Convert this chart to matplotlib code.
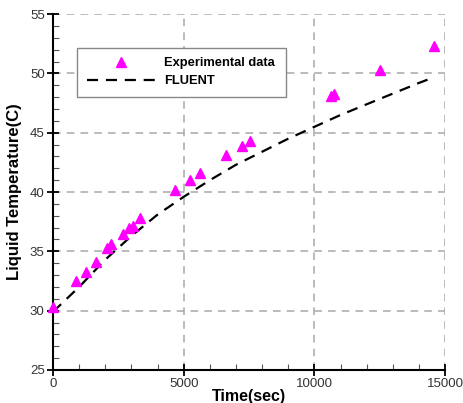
import numpy as np
import matplotlib.pyplot as plt
from matplotlib.ticker import MultipleLocator

plt.rcParams['font.family'] = ['Liberation Sans', 'DejaVu Sans']

# experimental points
t_exp = [0, 880, 1260, 1650, 2070, 2220, 2680, 2910, 3060, 3330,
         4670, 5240, 5630, 6620, 7230, 7540, 10640, 10750, 12510, 14580]
T_exp = [30.3, 32.5, 33.3, 34.1, 35.3, 35.6, 36.5, 37.0, 37.1, 37.8,
         40.2, 41.0, 41.6, 43.1, 43.9, 44.3, 48.1, 48.3, 50.3, 52.3]

# FLUENT curve
t_cfd = [0, 1000, 2000, 3000, 4000, 5000, 6000, 7000, 8000, 9000,
         10000, 11000, 12000, 13000, 14000, 14600]
T_cfd = [29.9, 32.0, 34.3, 36.3, 38.1, 39.6, 41.0, 42.3, 43.4, 44.5,
         45.5, 46.5, 47.4, 48.3, 49.2, 49.7]

fig = plt.figure(figsize=(4.63, 4.03), dpi=100)
ax = fig.add_axes([0.1145, 0.082, 0.847, 0.883])

ax.plot(t_exp, T_exp, '^', color='#ff00ff', markersize=7, label='Experimental data',
        clip_on=False, zorder=4)
ax.plot(t_cfd, T_cfd, '--', color='black', lw=1.6, dashes=(5, 3.5), label='FLUENT', zorder=3)

ax.set_xlim(0, 15000)
ax.set_ylim(25, 55)
ax.xaxis.set_major_locator(MultipleLocator(5000))
ax.xaxis.set_minor_locator(MultipleLocator(1000))
ax.yaxis.set_major_locator(MultipleLocator(5))
ax.yaxis.set_minor_locator(MultipleLocator(1))
ax.grid(True, which='major', color='#a8a8a8', ls=(0, (5, 4)), lw=1.1)
ax.set_axisbelow(True)

for s in ['top', 'right']:
    ax.spines[s].set_visible(False)
for s in ['left', 'bottom']:
    ax.spines[s].set_linewidth(1.5)

ax.tick_params(which='major', direction='inout', length=8, width=1.3, labelsize=9.5,
               labelcolor='#333333', pad=2)
ax.tick_params(which='minor', direction='in', length=4, width=0.8, color='#555555')

ax.set_xlabel('Time(sec)', fontsize=11.5, fontweight='bold', labelpad=-1)
ax.set_ylabel('Liquid Temperature(C)', fontsize=12, fontweight='bold', labelpad=6)

leg = ax.legend(loc='lower left', bbox_to_anchor=(0.061, 0.767, 0.533, 0.151), mode='expand',
                prop={'weight': 'bold', 'size': 9.3}, handlelength=5.3, handletextpad=0.7,
                borderpad=0.75, labelspacing=0.45, fancybox=False, framealpha=1,
                edgecolor='#888888', borderaxespad=0)
leg.get_frame().set_linewidth(1.0)

fig.savefig('out.png', dpi=100)
